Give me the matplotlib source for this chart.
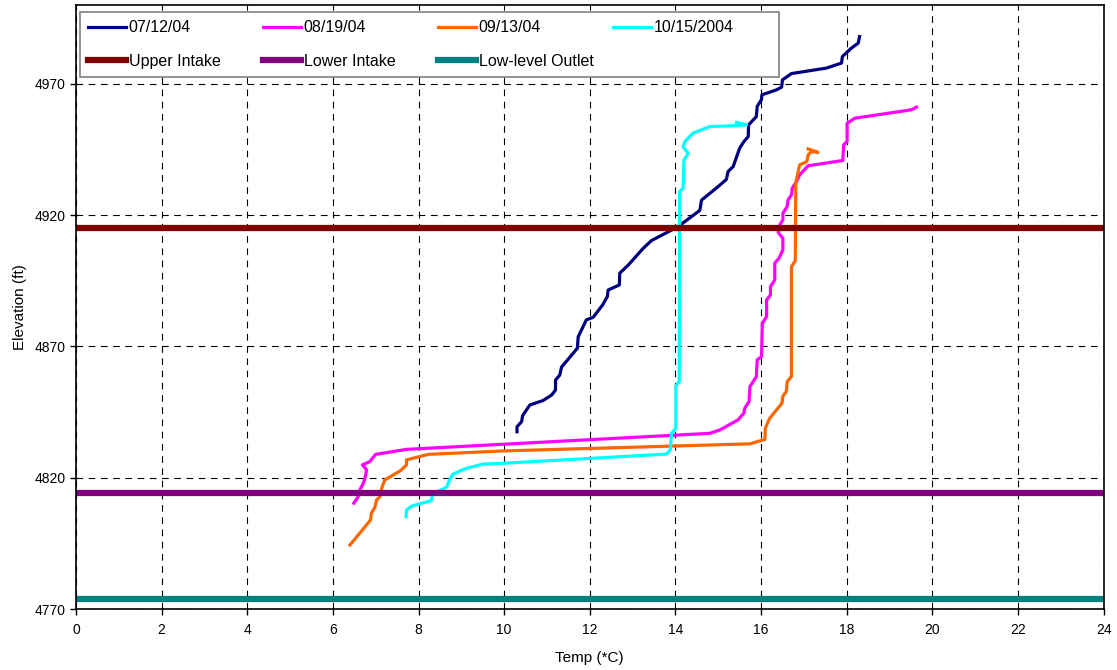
import numpy as np
import matplotlib
matplotlib.use("Agg")
from matplotlib import pyplot as plt

plt.rcParams['font.family'] = ['Liberation Sans', 'DejaVu Sans']

# temperature profiles (temp C, elevation ft)
t_0712 = [10.30, 10.30, 10.41, 10.43, 10.60, 10.91, 11.11, 11.20, 11.20, 11.30, 11.34, 11.71, 11.73,
          11.92, 12.08, 12.30, 12.41, 12.43, 12.69, 12.70, 12.90, 13.25, 13.44, 13.91, 14.06, 14.57,
          14.61, 15.00, 15.19, 15.23, 15.35, 15.39, 15.46, 15.50, 15.60, 15.70, 15.71, 15.89, 15.91,
          16.01, 16.02, 16.36, 16.48, 16.50, 16.71, 17.53, 17.88, 17.90, 18.11, 18.27, 18.30]
e_0712 = [4837.5, 4839.4, 4841.4, 4843.6, 4847.7, 4849.4, 4851.5, 4853.4, 4857.2, 4859.1, 4862.1, 4869.3, 4873.7,
          4880.1, 4881.1, 4885.8, 4889.0, 4891.5, 4893.4, 4897.9, 4901.0, 4907.4, 4910.3, 4914.3, 4915.6, 4921.8,
          4925.7, 4930.9, 4933.6, 4936.6, 4938.5, 4940.4, 4943.6, 4945.5, 4948.0, 4949.9, 4954.4, 4957.5, 4961.4,
          4964.0, 4965.8, 4967.7, 4968.7, 4971.5, 4973.9, 4976.0, 4977.9, 4980.4, 4983.6, 4985.5, 4988.0]

t_0819 = [6.49, 6.59, 6.63, 6.71, 6.75, 6.79, 6.69, 6.86, 7.00, 7.72, 14.80, 15.04, 15.46, 15.60, 15.62,
          15.72, 15.74, 15.89, 15.91, 16.01, 16.03, 16.13, 16.13, 16.22, 16.22, 16.32, 16.32, 16.42, 16.51,
          16.51, 16.40, 16.44, 16.51, 16.51, 16.61, 16.63, 16.71, 16.73, 16.83, 16.90, 17.10, 17.91, 17.93,
          18.01, 18.01, 18.19, 19.51, 19.63]
e_0819 = [4810.3, 4812.8, 4815.3, 4817.9, 4819.8, 4823.0, 4824.9, 4826.1, 4828.9, 4830.8, 4836.9, 4838.2, 4842.0, 4844.6, 4846.5,
          4849.0, 4854.7, 4858.5, 4864.9, 4866.1, 4878.8, 4881.4, 4887.7, 4889.6, 4892.8, 4895.3, 4901.7, 4903.6, 4906.8,
          4911.2, 4913.4, 4916.3, 4918.2, 4920.7, 4923.3, 4925.8, 4927.7, 4930.3, 4932.8, 4935.3, 4938.8, 4940.8, 4946.8,
          4948.0, 4955.0, 4956.9, 4960.1, 4961.1]

t_0913 = [6.40, 6.88, 6.90, 6.98, 7.02, 7.10, 7.14, 7.21, 7.58, 7.72, 7.72, 8.23, 9.98, 15.74, 16.09,
          16.10, 16.20, 16.49, 16.51, 16.59, 16.61, 16.71, 16.71, 16.80, 16.81, 16.90, 17.07, 17.10, 17.18,
          17.33, 17.10]
e_0913 = [4794.4, 4803.9, 4806.5, 4808.7, 4811.5, 4812.8, 4816.0, 4819.1, 4822.7, 4824.9, 4826.8, 4828.9, 4830.2, 4832.9, 4834.6,
          4838.9, 4842.6, 4848.4, 4851.1, 4852.8, 4856.6, 4858.5, 4900.4, 4902.6, 4932.2, 4939.1, 4940.4, 4943.0, 4944.2,
          4943.9, 4945.2]

t_1015 = [7.71, 7.72, 7.84, 8.30, 8.33, 8.66, 8.72, 8.81, 9.12, 9.51, 9.98, 13.79, 13.88, 13.91, 14.01,
          14.01, 14.09, 14.10, 14.18, 14.20, 14.30, 14.18, 14.22, 14.41, 14.80, 15.46, 15.66, 15.43]
e_1015 = [4805.2, 4807.7, 4809.2, 4811.3, 4813.8, 4816.4, 4819.1, 4821.4, 4823.6, 4825.2, 4825.5, 4829.0, 4830.6, 4836.9, 4838.8,
          4855.0, 4856.6, 4929.0, 4930.2, 4941.0, 4943.5, 4946.0, 4948.0, 4951.2, 4953.7, 4954.1, 4954.4, 4955.3]

# structure elevations
upper_intake = 4915
lower_intake = 4814
low_outlet = 4774

x_ticks = np.arange(0, 25, 2)
y_ticks = np.arange(4770, 4971, 50)

fig = plt.figure(figsize=(11.17, 6.70), dpi=100)
ax = fig.add_axes([0.068, 0.091, 0.920, 0.9015])

h1, = ax.plot(t_0712, e_0712, color='#000080', lw=2.3, label='07/12/04')
h2, = ax.plot(t_0819, e_0819, color='#FF00FF', lw=2.3, label='08/19/04')
h3, = ax.plot(t_0913, e_0913, color='#FF6600', lw=2.3, label='09/13/04')
h4, = ax.plot(t_1015, e_1015, color='#00FFFF', lw=2.3, label='10/15/2004')
h5 = ax.axhline(upper_intake, color='#800000', lw=4.5, label='Upper Intake')
h6 = ax.axhline(lower_intake, color='#800080', lw=4.5, label='Lower Intake')
h7 = ax.axhline(low_outlet, color='#008080', lw=4.5, label='Low-level Outlet')

ax.set_xlim(0, 24)
ax.set_ylim(4770, 5000)
ax.set_xticks(x_ticks)
ax.set_yticks(y_ticks)
ax.grid(True, color='black', linestyle=(0, (6, 5)), lw=0.8)
ax.set_axisbelow(True)
ax.tick_params(labelsize=10, direction='out', length=4, width=1)
ax.tick_params(axis='x', pad=6)
for s in ax.spines.values():
    s.set_linewidth(1.2)

ax.set_xlabel('Temp (*C)', fontsize=11, labelpad=10)
ax.set_ylabel('Elevation (ft)', fontsize=11, labelpad=5)

# column-major order so the dates fill the first row
handles = [h1, h5, h2, h6, h3, h7, h4]
leg = ax.legend(handles=handles, labels=[h.get_label() for h in handles], ncol=4,
                loc='upper left', bbox_to_anchor=(0.004, 0.988),
                fontsize=11.5, frameon=True, fancybox=False, handlelength=2.4, handletextpad=0.15,
                labelspacing=1.15, borderpad=0.5, borderaxespad=0, columnspacing=0,
                framealpha=1, edgecolor='#808080')
leg.get_frame().set_linewidth(1.2)

# equal-width columns like the original spreadsheet legend
col_widths = [175, 175, 175, 158]
try:
    for col, w in zip(leg._legend_handle_box.get_children(), col_widths):
        col.align = 'left'
        col.width = w
except AttributeError:
    pass

fig.savefig('out.png', dpi=100)
